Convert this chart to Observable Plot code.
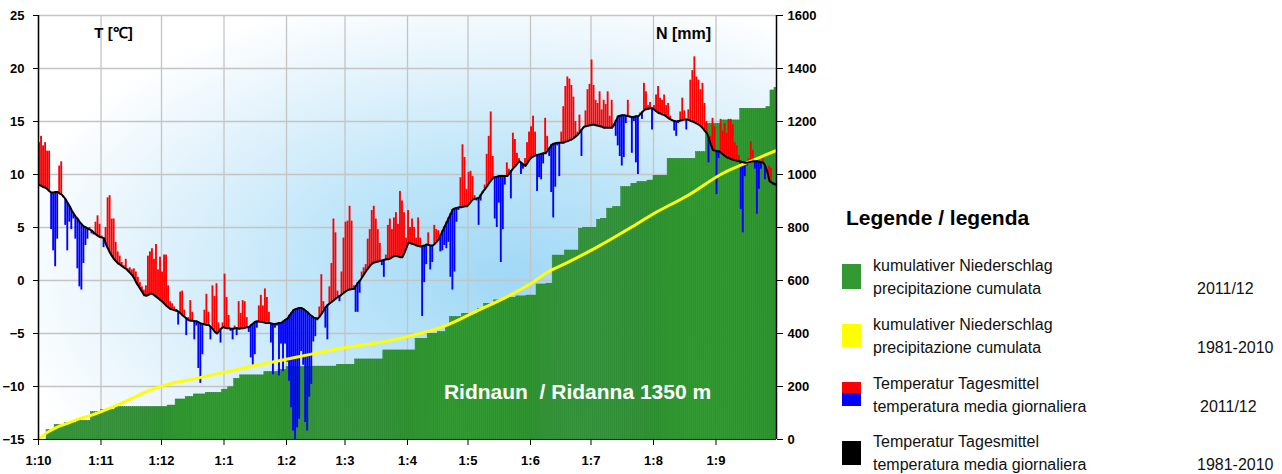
<!DOCTYPE html>
<html><head><meta charset="utf-8">
<script src="https://cdn.jsdelivr.net/npm/d3@7"></script>
<script src="https://cdn.jsdelivr.net/npm/@observablehq/plot@0.6"></script>
<style>
body{margin:0;background:#fff;font-family:"Liberation Sans",Arial,sans-serif;}
#wrap{position:relative;width:1282px;height:474px;overflow:hidden;}
#chart{position:absolute;left:0;top:0;}
.lg{position:absolute;color:#111;font-size:16px;line-height:1;white-space:nowrap;}
.lt{position:absolute;font-size:21px;font-weight:bold;color:#000;white-space:nowrap;}
.sw{position:absolute;width:19px;}
</style></head><body><div id="wrap"><div id="chart"></div>
<div class="lt" style="left:846px;top:206px">Legende / legenda</div>
<div class="sw" style="left:842px;top:264px;height:25px;background:#339933"></div>
<div class="lg" style="left:873px;top:258px">kumulativer Niederschlag</div>
<div class="lg" style="left:873px;top:281px">precipitazione cumulata</div>
<div class="lg" style="left:1197px;top:281px">2011/12</div>
<div class="sw" style="left:842px;top:324px;height:23px;background:#ffff00"></div>
<div class="lg" style="left:873px;top:317px">kumulativer Niederschlag</div>
<div class="lg" style="left:873px;top:340px">precipitazione cumulata</div>
<div class="lg" style="left:1197px;top:340px">1981-2010</div>
<div class="sw" style="left:842px;top:382px;height:11px;background:#ff0000"></div>
<div class="sw" style="left:842px;top:393px;height:13px;background:#0000ff"></div>
<div class="lg" style="left:873px;top:376px">Temperatur Tagesmittel</div>
<div class="lg" style="left:873px;top:399px">temperatura media giornaliera</div>
<div class="lg" style="left:1200px;top:399px">2011/12</div>
<div class="sw" style="left:842px;top:441px;height:24px;background:#000"></div>
<div class="lg" style="left:873px;top:434px">Temperatur Tagesmittel</div>
<div class="lg" style="left:873px;top:457px">temperatura media giornaliera</div>
<div class="lg" style="left:1197px;top:457px">1981-2010</div>
</div>
<script>
// ---- data ----
const monthStarts = [0,31,61,92,123,152,183,213,244,274,305,336];
const monthLabels = ["1:10","1:11","1:12","1:1","1:2","1:3","1:4","1:5","1:6","1:7","1:8","1:9"];
const tempTicks = [-15,-10,-5,0,5,10,15,20,25];
const precipTicks = [0,200,400,600,800,1000,1200,1400,1600];

// daily mean temperature 2011/12 (Oct 1 .. Sep 30)
const tempMean = [
 13.0,13.6,12.7,13.0,12.2,12.2,4.8,2.8,1.3,3.9,10.8,11.2,7.8,5.2,2.8,5.5,4.8,5.8,3.9,1.1,-0.6,-0.9,1.6,3.3,3.9,5.0,4.4,4.3,5.5,6.1,5.3,
 4.2,3.1,5.0,7.8,8.0,5.8,5.8,3.6,2.7,2.3,1.7,1.4,2.0,1.1,1.2,1.0,1.1,0.8,0.3,-0.2,-0.6,-0.9,-0.5,2.3,2.7,3.0,2.0,3.4,1.0,2.2,
 0.8,2.4,2.4,-0.5,-2.0,-2.2,-2.5,-3.0,-4.2,-1.1,-1.0,-2.8,-5.2,-3.5,-1.9,-3.0,-5.6,-4.3,-8.3,-9.7,-7.0,-2.8,-1.3,-3.0,-5.6,-0.5,-1.5,-0.3,-4.0,-5.9,-4.0,
 0.6,-1.6,-3.3,-4.8,-5.6,-4.3,-5.2,-2.0,-3.1,-1.9,-2.0,-3.5,-4.9,-7.3,-8.1,-7.0,-4.5,-2.4,-1.4,-2.4,-0.8,-1.6,-3.0,-5.9,-8.9,-4.5,-4.3,-9.0,-6.0,-8.6,-6.0,
 -7.7,-9.5,-12.0,-14.2,-15.0,-13.9,-13.1,-6.7,-8.0,-13.4,-14.2,-11.0,-9.8,-5.8,-5.3,-3.8,-2.5,0.55,-2.0,-4.5,-5.6,-0.6,1.6,5.8,4.5,-1.0,-2.0,0.8,4.0,
 5.5,5.6,7.0,5.6,-0.5,-3.0,-3.0,-1.2,0.8,1.2,1.5,3.9,4.8,6.6,7.0,5.8,4.8,3.5,1.4,0.3,2.4,5.2,5.8,4.8,5.9,6.4,5.3,8.4,7.5,6.4,4.0,
 6.6,5.0,5.8,5.0,4.0,5.9,4.0,-3.4,-0.2,1.5,4.5,1.0,1.7,5.2,4.8,4.7,2.7,2.8,3.3,3.0,3.6,0.3,-0.9,0.8,5.5,6.6,9.7,12.8,11.6,8.6,
 10.2,10.3,9.8,8.0,7.5,5.2,7.5,8.2,9.0,11.9,13.6,15.9,11.7,5.8,5.0,7.3,1.7,4.8,9.0,11.1,10.5,7.7,13.9,13.3,12.0,11.5,10.0,10.5,11.5,13.0,14.0,
 14.5,15.5,14.0,8.4,9.7,9.5,11.0,15.3,13.6,11.7,8.3,5.9,8.8,12.7,9.8,14.0,16.4,18.3,19.2,19.0,18.4,17.3,15.0,14.0,15.6,11.7,14.5,16.0,18.0,18.5,
 20.8,18.4,17.0,16.7,17.8,16.1,17.0,16.6,17.8,15.5,17.0,14.5,13.6,12.7,11.7,10.8,11.6,14.8,17.0,15.5,12.0,15.0,11.1,10.0,15.8,15.2,18.6,17.8,16.5,16.8,14.2,
 16.5,17.5,18.3,17.2,17.0,17.5,16.5,16.7,15.5,15.0,14.1,13.6,14.8,15.9,17.2,16.0,14.2,16.1,18.9,19.8,21.1,19.2,18.9,18.0,18.6,16.7,15.0,11.1,13.6,15.3,14.5,
 8.1,11.5,15.2,14.1,14.8,13.9,15.2,15.2,14.7,13.0,12.7,11.8,6.7,4.5,9.8,10.8,11.5,13.1,12.3,10.5,6.25,8.6,10.5,11.5,9.5,10.5,10.8,10.6,9.0,8.9
];
// daily mean temperature 1981-2010
const tempClim = [
 9.0,8.9,8.8,8.75,8.6,8.4,8.3,8.3,8.35,8.35,8.2,8.1,7.9,7.65,7.3,7.0,6.6,6.3,6.0,5.8,5.5,5.3,5.1,5.0,4.9,4.8,4.7,4.5,4.35,4.2,4.1,
 4.05,4.0,3.4,3.0,2.6,2.3,2.0,1.8,1.6,1.5,1.35,1.2,1.1,0.9,0.7,0.5,0.2,-0.2,-0.5,-0.8,-1.1,-1.4,-1.45,-1.35,-1.25,-1.25,-1.4,-1.55,-1.7,-1.85,
 -2.0,-2.2,-2.4,-2.55,-2.7,-2.75,-2.8,-2.8,-2.95,-3.1,-3.3,-3.45,-3.6,-3.75,-3.8,-3.8,-3.85,-3.85,-3.95,-4.05,-4.1,-4.15,-4.2,-4.2,-4.4,-4.6,-4.85,-5.0,-4.8,-4.55,-4.4,
 -4.45,-4.5,-4.5,-4.55,-4.55,-4.5,-4.5,-4.55,-4.5,-4.5,-4.45,-4.4,-4.4,-4.2,-4.05,-3.9,-3.85,-3.9,-3.9,-3.95,-4.0,-4.0,-4.0,-4.05,-4.1,-4.1,-4.05,-4.0,-4.0,-3.85,-3.7,
 -3.6,-3.3,-3.05,-2.8,-2.7,-2.65,-2.6,-2.6,-2.7,-2.85,-3.0,-3.2,-3.35,-3.5,-3.55,-3.6,-3.4,-3.1,-2.8,-2.5,-2.3,-2.15,-2.0,-1.85,-1.7,-1.55,-1.45,-1.3,-1.15,
 -1.0,-0.9,-0.85,-0.8,-0.8,-0.5,-0.2,0.0,0.3,0.6,0.9,1.15,1.4,1.6,1.7,1.75,1.8,1.85,1.9,1.95,2.0,2.0,2.1,2.2,2.3,2.3,2.25,2.2,2.2,2.6,3.1,
 3.6,3.5,3.45,3.4,3.3,3.25,3.2,3.25,3.3,3.4,3.35,3.3,3.3,3.45,3.65,3.9,4.3,4.7,5.1,5.5,5.9,6.3,6.7,6.8,6.85,6.9,6.9,6.95,7.0,7.0,
 7.2,7.45,7.65,7.7,7.75,7.8,8.1,8.4,8.65,8.9,9.2,9.45,9.7,9.75,9.8,9.85,9.85,9.85,9.85,9.85,10.1,10.35,10.6,10.8,11.05,11.25,11.1,10.95,10.8,11.1,11.4,
 11.6,11.7,11.8,11.85,11.9,11.95,12.0,12.0,12.25,12.5,12.8,12.9,12.95,13.0,13.0,13.0,13.0,13.1,13.15,13.25,13.3,13.45,13.6,13.75,14.0,14.25,14.5,14.55,14.6,14.65,
 14.7,14.7,14.65,14.6,14.55,14.5,14.4,14.4,14.4,14.4,14.4,14.75,15.1,15.5,15.55,15.6,15.6,15.55,15.5,15.45,15.4,15.45,15.5,15.5,15.7,15.9,16.1,16.15,16.2,16.25,16.25,
 16.1,15.95,15.8,15.75,15.65,15.6,15.45,15.3,15.2,15.1,15.05,15.0,15.05,15.1,15.15,15.2,15.2,15.15,15.05,15.0,14.9,14.8,14.7,14.55,14.35,14.1,13.9,13.4,12.8,12.3,12.25,
 12.2,12.2,12.05,11.9,11.75,11.6,11.55,11.45,11.4,11.35,11.3,11.25,11.2,11.15,11.1,11.1,11.15,11.2,11.25,11.25,11.25,11.2,11.15,11.1,10.8,10.2,9.4,9.25,9.15,9.1
];
// precipitation events 2011/12: day index (from Oct 1) and amount in mm
const precipDays    = [4,8,13,19,26,31,38,64,68,73,77,83,91,94,97,100,112,119,123,136,148,157,171,187,193,198,202,204,210,218,221,226,232,237,242,247,252,255,261,268,270,277,279,282,285,289,294,297,302,305,312,326,331,339,348,361,363,365];
const precipAmounts = [35,20,7,8,33,9,10,6,23,9,10,6,12,9,32,13,12,8,11,2,7,20,34,44,19,6,19,38,12,19,19,13,10,5,3,42,3,106,19,82,4,30,4,38,6,75,13,6,6,18,64,25,107,13,44,6,63,10];
// cumulative precipitation 1981-2010, read at these days
const climCumDays = [0,4,9,14,20,26,36,46,55,65,75,85,95,108,120,136,153,170,185,202,218,232,244,254,261,277,294,305,322,339,356,366];
const climCumMm   = [0,25,46,60,78,91,120,154,185,210,225,242,258,280,298,323,348,367,392,430,487,537,588,638,663,726,801,852,921,1003,1059,1091];

// ---- derived tables ----
const days = d3.range(366);
const rainByDay = new Map(precipDays.map((d,i)=>[d,precipAmounts[i]]));
const cumPrecip = d3.cumsum(days, d => rainByDay.get(d) || 0);
const toT = n => -15 + n / 40;   // 0..1600 mm -> -15..25 °C
const daily = days.map(d => ({d, t: tempMean[d], c: tempClim[d], p: cumPrecip[d]}));
const climCum = climCumDays.map((d,i)=>({d, v: climCumMm[i]}));

function background(index, scales, values, dim) {
  const g = d3.create("svg:g");
  const grad = g.append("defs").append("radialGradient")
    .attr("id","bgGrad").attr("cx","0.64").attr("cy","0.62").attr("r","0.7");
  [["0","#a0d8f6"],["0.4","#c0e6f9"],["0.75","#e6f4fc"],["1","#ffffff"]]
    .forEach(([o,c]) => grad.append("stop").attr("offset",o).attr("stop-color",c));
  g.append("rect").attr("x",dim.marginLeft).attr("y",dim.marginTop)
    .attr("width",dim.width-dim.marginLeft-dim.marginRight)
    .attr("height",dim.height-dim.marginTop-dim.marginBottom)
    .attr("fill","url(#bgGrad)");
  return g.node();
}

const chart = Plot.plot({
  width: 830, height: 474,
  marginLeft: 38, marginRight: 54, marginTop: 15, marginBottom: 35,
  x: {domain: [0, 366], axis: null},
  y: {domain: [-15, 25], axis: null},
  style: {fontFamily: "Liberation Sans, Arial, sans-serif", background: "transparent", overflow: "visible"},
  marks: [
    background,
    Plot.gridY(tempTicks, {stroke: "#c4c4c4", strokeOpacity: 1, strokeWidth: 1.3}),
    Plot.gridX(monthStarts, {stroke: "#c4c4c4", strokeOpacity: 1, strokeWidth: 1.3}),
    Plot.rect(daily, {x1: p => p.d, x2: p => p.d + 1, y1: () => -15, y2: p => toT(p.p),
      fill: "#339933", stroke: "#25812a", strokeWidth: 0.5}),
    Plot.rect(daily, {x1: p => p.d + 0.05, x2: p => p.d + 0.98, y1: "c", y2: "t",
      fill: p => p.t >= p.c ? "#ff0000" : "#0000ff"}),
    Plot.line(climCum, {x: "d", y: p => toT(p.v), stroke: "#ffff00", strokeWidth: 3, curve: "monotone-x"}),
    Plot.line(daily, {x: p => p.d + 0.5, y: "c", stroke: "#000", strokeWidth: 2}),
    Plot.ruleX([0, 366], {stroke: "#000", strokeWidth: 1.5}),
    Plot.ruleY([-15], {stroke: "#222", strokeWidth: 1.2}),
    Plot.axisY(tempTicks, {anchor: "left", label: null, tickSize: 5, tickPadding: 9, fontWeight: "bold", fontSize: 13}),
    Plot.axisY(tempTicks, {anchor: "right", label: null, tickSize: 6, tickPadding: 5, fontWeight: "bold", fontSize: 13,
      tickFormat: t => String(precipTicks[tempTicks.indexOf(t)])}),
    Plot.axisX(monthStarts, {anchor: "bottom", label: null, tickSize: 6, tickPadding: 10, fontWeight: "bold", fontSize: 13,
      tickFormat: d => monthLabels[monthStarts.indexOf(d)]}),
    Plot.text(["T [℃]"], {frameAnchor: "top-left", dx: 75, dy: 18, lineAnchor: "middle", textAnchor: "middle", fontWeight: "bold", fontSize: 15}),
    Plot.text(["N [mm]"], {frameAnchor: "top-left", dx: 645, dy: 18, lineAnchor: "middle", textAnchor: "middle", fontWeight: "bold", fontSize: 16}),
    Plot.text(["Ridnaun \u00a0/ Ridanna 1350 m"], {frameAnchor: "top-left", dx: 539, dy: 377, lineAnchor: "middle", textAnchor: "middle",
      fontWeight: "bold", fontSize: 21, fill: "#fff"})
  ]
});
document.getElementById("chart").appendChild(chart);
</script>
</body></html>
